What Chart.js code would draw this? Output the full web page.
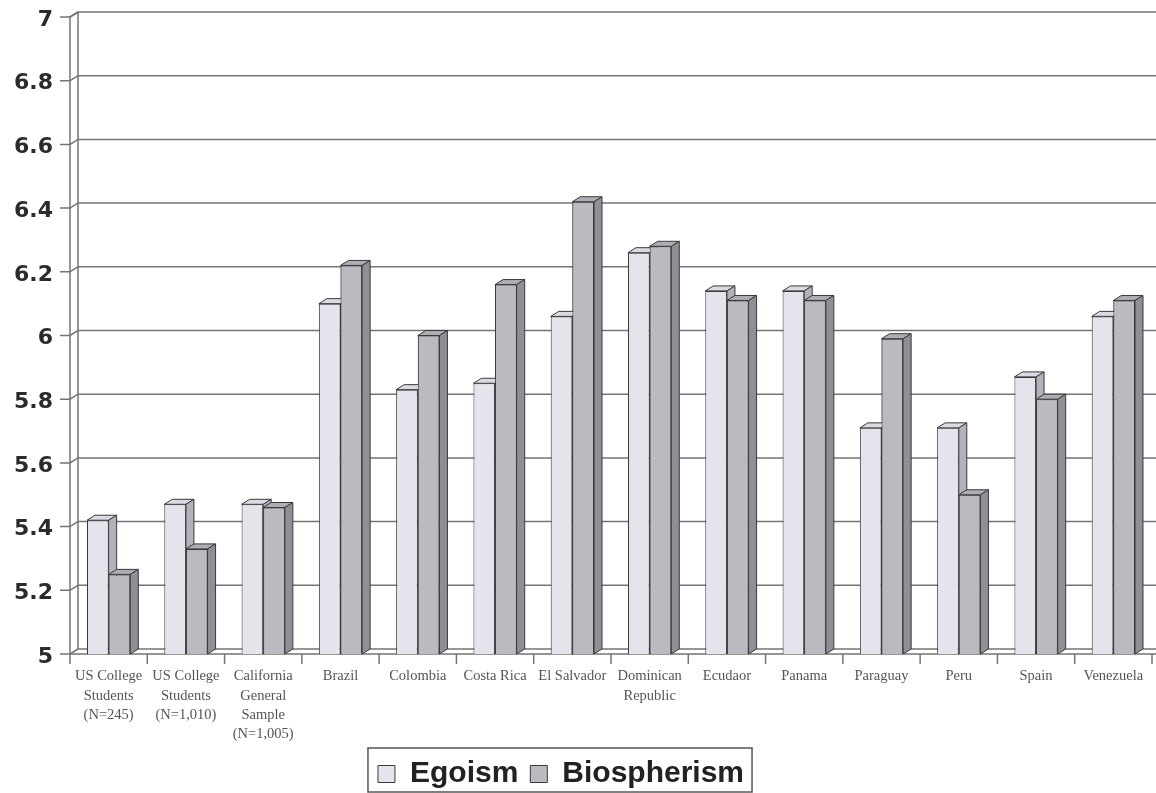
<!DOCTYPE html>
<html>
<head>
<meta charset="utf-8">
<script src="https://cdn.jsdelivr.net/npm/chart.js@4.4.1/dist/chart.umd.min.js"></script>
<style>
  html, body { margin: 0; padding: 0; background: #fff; }
  #wrap { width: 1156px; height: 793px; position: relative; }
</style>
</head>
<body>
<div id="wrap"><canvas id="chart"></canvas></div>
<script>
const categories = [
  ['US College', 'Students', '(N=245)'],
  ['US College', 'Students', '(N=1,010)'],
  ['California', 'General', 'Sample', '(N=1,005)'],
  'Brazil',
  'Colombia',
  'Costa Rica',
  'El Salvador',
  ['Dominican', 'Republic'],
  'Ecudaor',
  'Panama',
  'Paraguay',
  'Peru',
  'Spain',
  'Venezuela'
];
const egoism = [5.42, 5.47, 5.47, 6.10, 5.83, 5.85, 6.06, 6.26, 6.14, 6.14, 5.71, 5.71, 5.87, 6.06];
const biospherism = [5.25, 5.33, 5.46, 6.22, 6.00, 6.16, 6.42, 6.28, 6.11, 6.11, 5.99, 5.50, 5.80, 6.11];
const yTicks = [5, 5.2, 5.4, 5.6, 5.8, 6, 6.2, 6.4, 6.6, 6.8, 7];

// depth of the fake 3D
const DX = 8;
const DY = 5;
const BOTTOM_PAD = -6;
const LEGEND_SHIFT = -15;
const faceColors = [
  { top: '#dadae2', side: '#b2b2ba' },
  { top: '#adadb4', side: '#8f8f96' }
];

function drawFaces(chart, meta, c) {
  const ctx = chart.ctx;
  const bottom = chart.chartArea.bottom;
  ctx.save();
  ctx.strokeStyle = '#3a3a3a';
  ctx.lineWidth = 1;
  for (const el of meta.data) {
    const p = el.getProps(['x', 'y', 'width'], true);
    const l = p.x - p.width / 2;
    const r = p.x + p.width / 2;
    ctx.beginPath();
    ctx.moveTo(l, p.y);
    ctx.lineTo(l + DX, p.y - DY);
    ctx.lineTo(r + DX, p.y - DY);
    ctx.lineTo(r, p.y);
    ctx.closePath();
    ctx.fillStyle = c.top;
    ctx.fill();
    ctx.stroke();
    ctx.beginPath();
    ctx.moveTo(r, p.y);
    ctx.lineTo(r + DX, p.y - DY);
    ctx.lineTo(r + DX, bottom - DY);
    ctx.lineTo(r, bottom);
    ctx.closePath();
    ctx.fillStyle = c.side;
    ctx.fill();
    ctx.stroke();
  }
  ctx.restore();
}

const threeD = {
  id: 'threeD',
  afterLayout(chart) {
    // nudge the legend a little left, as in the original
    const lg = chart.legend;
    if (!lg) return;
    lg.left += LEGEND_SHIFT;
    lg.right += LEGEND_SHIFT;
    for (const b of lg.legendHitBoxes) b.left += LEGEND_SHIFT;
  },
  beforeDatasetsDraw(chart) {
    const ctx = chart.ctx;
    const area = chart.chartArea;
    const y = chart.scales.y;
    ctx.save();
    ctx.strokeStyle = '#747474';
    ctx.lineWidth = 1.5;
    // back wall grid lines with small diagonals at the wall
    for (const v of yTicks) {
      const py = y.getPixelForValue(v);
      ctx.beginPath();
      ctx.moveTo(area.left - 10, py + DY);
      ctx.lineTo(area.left, py + DY);
      ctx.lineTo(area.left + DX, py);
      ctx.lineTo(area.right + 6, py);
      ctx.stroke();
    }
    // left wall
    const top = y.getPixelForValue(7);
    const bottom = y.getPixelForValue(5);
    ctx.beginPath();
    ctx.moveTo(area.left, bottom + DY);
    ctx.lineTo(area.left, top + DY);
    ctx.lineTo(area.left + DX, top);
    ctx.moveTo(area.left + DX, top);
    ctx.lineTo(area.left + DX, bottom);
    ctx.stroke();
    // floor front edge and category ticks
    const x = chart.scales.x;
    const step = x.width / categories.length;
    ctx.beginPath();
    ctx.moveTo(area.left, bottom + DY);
    ctx.lineTo(area.right + 6, bottom + DY);
    for (let i = 0; i <= categories.length; i++) {
      const px = x.left + i * step;
      ctx.moveTo(px, bottom + DY);
      ctx.lineTo(px, bottom + DY + 10);
    }
    ctx.stroke();
    ctx.restore();
    // bars sit on the front plane
    ctx.save();
    ctx.translate(0, DY);
  },
  afterDatasetDraw(chart, args) {
    // Egoism (index 0) is drawn last; after it, lay Biospherism back on top
    if (args.index !== 0) return;
    const ctx = chart.ctx;
    const area = chart.chartArea;
    drawFaces(chart, args.meta, faceColors[0]);
    const bio = chart.getDatasetMeta(1);
    ctx.save();
    ctx.beginPath();
    ctx.rect(area.left, area.top - DY, area.right - area.left, area.bottom - area.top + DY);
    ctx.clip();
    for (const el of bio.data) el.draw(ctx, area);
    ctx.restore();
    drawFaces(chart, bio, faceColors[1]);
  },
  afterDatasetsDraw(chart) {
    chart.ctx.restore();
  },
  afterDraw(chart) {
    const boxes = chart.legend && chart.legend.legendHitBoxes;
    if (!boxes || !boxes.length) return;
    const ctx = chart.ctx;
    const left = Math.min(...boxes.map(b => b.left));
    const right = Math.max(...boxes.map(b => b.left + b.width));
    ctx.save();
    ctx.strokeStyle = '#555';
    ctx.lineWidth = 1.5;
    ctx.strokeRect(left - 10, 748, right - left + 18, 44);
    ctx.restore();
  }
};

new Chart(document.getElementById('chart'), {
  type: 'bar',
  data: {
    labels: categories,
    datasets: [
      {
        label: 'Egoism',
        data: egoism,
        backgroundColor: '#e4e4ec',
        borderColor: '#3a3a3a',
        borderWidth: 1,
        borderSkipped: false
      },
      {
        label: 'Biospherism',
        data: biospherism,
        backgroundColor: '#babac1',
        borderColor: '#3a3a3a',
        borderWidth: 1,
        borderSkipped: false
      }
    ]
  },
  options: {
    responsive: true,
    maintainAspectRatio: false,
    animation: false,
    layout: { padding: { top: 12, right: 4, left: 0, bottom: BOTTOM_PAD } },
    datasets: { bar: { categoryPercentage: 0.56, barPercentage: 1.0 } },
    scales: {
      x: {
        grid: { display: false, drawTicks: false },
        border: { display: false },
        ticks: {
          autoSkip: false,
          maxRotation: 0,
          minRotation: 0,
          padding: 18,
          color: '#555',
          font: { family: '"Liberation Serif", "DejaVu Serif", serif', size: 14.5, lineHeight: 1.33 }
        },
        afterFit(scale) {
          const lh = scale.chart.legend ? scale.chart.legend.height : 0;
          scale.height = scale.chart.height - BOTTOM_PAD - 649 - lh;
          scale.paddingLeft = 0;
          scale.paddingRight = 0;
        }
      },
      y: {
        min: 5,
        max: 7,
        grid: { display: false, drawTicks: false },
        border: { display: false },
        ticks: {
          stepSize: 0.2,
          padding: 17,
          labelOffset: DY + 3,
          color: '#2b2b2b',
          font: { family: '"DejaVu Sans", sans-serif', size: 22, weight: 'bold' },
          callback: v => String(+Number(v).toFixed(1))
        },
        afterFit(scale) {
          scale.width = 70;
          scale.paddingTop = 0;
          scale.paddingBottom = 0;
        }
      }
    },
    plugins: {
      legend: {
        position: 'bottom',
        labels: {
          boxWidth: 17,
          boxHeight: 17,
          padding: 12,
          color: '#222',
          font: { family: '"Liberation Sans", Arial, sans-serif', size: 30, weight: 'bold' }
        }
      },
      tooltip: { enabled: false }
    }
  },
  plugins: [threeD]
});
</script>
</body>
</html>
